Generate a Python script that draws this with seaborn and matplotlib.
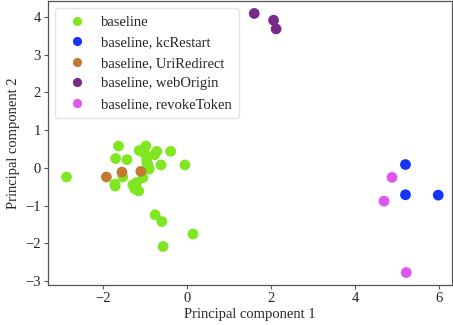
import matplotlib
matplotlib.use("Agg")
import matplotlib.pyplot as plt
import seaborn as sns
import pandas as pd

# --- data ---
labels = ["baseline", "baseline, kcRestart", "baseline, UriRedirect",
          "baseline, webOrigin", "baseline, revokeToken"]
colors = ["#7fe621", "#1434fa", "#c27a32", "#772a88", "#de55f0"]

baseline_x = [-2.87, -1.63, -0.98, -1.70, -1.43, -1.14, -1.00, -0.72, -0.77, -0.39,
              -0.62, -0.05, -0.96, -0.92, -0.90, -0.97, -0.94, -1.53, -1.72, -1.71,
              -1.29, -1.24, -1.15, -1.20, -1.05, -0.76, -0.60, 0.14, -0.57]
baseline_y = [-0.24, 0.58, 0.58, 0.25, 0.22, 0.46, 0.37, 0.44, 0.35, 0.44,
              0.08, 0.08, 0.17, 0.03, -0.03, 0.30, 0.10, -0.24, -0.43, -0.48,
              -0.45, -0.56, -0.61, -0.39, -0.26, -1.24, -1.42, -1.75, -2.08]
kc_x = [5.20, 5.20, 5.98]
kc_y = [0.09, -0.71, -0.72]
uri_x = [-1.92, -1.55, -1.10]
uri_y = [-0.24, -0.11, -0.09]
web_x = [1.60, 2.06, 2.12]
web_y = [4.09, 3.91, 3.68]
rev_x = [4.88, 4.69, 5.22]
rev_y = [-0.25, -0.88, -2.77]

xs = [baseline_x, kc_x, uri_x, web_x, rev_x]
ys = [baseline_y, kc_y, uri_y, web_y, rev_y]
rows = []
for lab, xv, yv in zip(labels, xs, ys):
    for a, b in zip(xv, yv):
        rows.append({"pc1": a, "pc2": b, "group": lab})
df = pd.DataFrame(rows)

sns.set_style("white")
plt.rcParams["font.family"] = ["Liberation Serif", "DejaVu Serif"]

fig = plt.figure(figsize=(4.53, 3.25), dpi=100)
ax = fig.add_axes([0.106, 0.123, 0.892, 0.874])
sns.scatterplot(data=df, x="pc1", y="pc2", hue="group", hue_order=labels,
                palette=colors, s=60, linewidth=0, ax=ax)
ax.set_xlim(-3.31, 6.31)
ax.set_ylim(-3.1, 4.42)
ax.set_xticks([-2, 0, 2, 4, 6])
ax.set_yticks([-3, -2, -1, 0, 1, 2, 3, 4])
ax.set_xlabel("Principal component 1", fontsize=10.5, labelpad=2)
ax.set_ylabel("Principal component 2", fontsize=10.5)
ax.tick_params(axis="both", labelsize=10.5, direction="out", length=3, width=0.8,
               color="#555555", left=True, bottom=True, pad=2)
for sp in ax.spines.values():
    sp.set_color("#555555")
    sp.set_linewidth(0.9)
leg = ax.legend(loc="upper left", fontsize=10.5, frameon=True, markerscale=0.85,
                handletextpad=0.6, borderpad=0.5, labelspacing=0.5,
                bbox_to_anchor=(0.0, 1.0))
leg.get_frame().set_edgecolor("#dddddd")
fig.savefig("out.png", dpi=100)
